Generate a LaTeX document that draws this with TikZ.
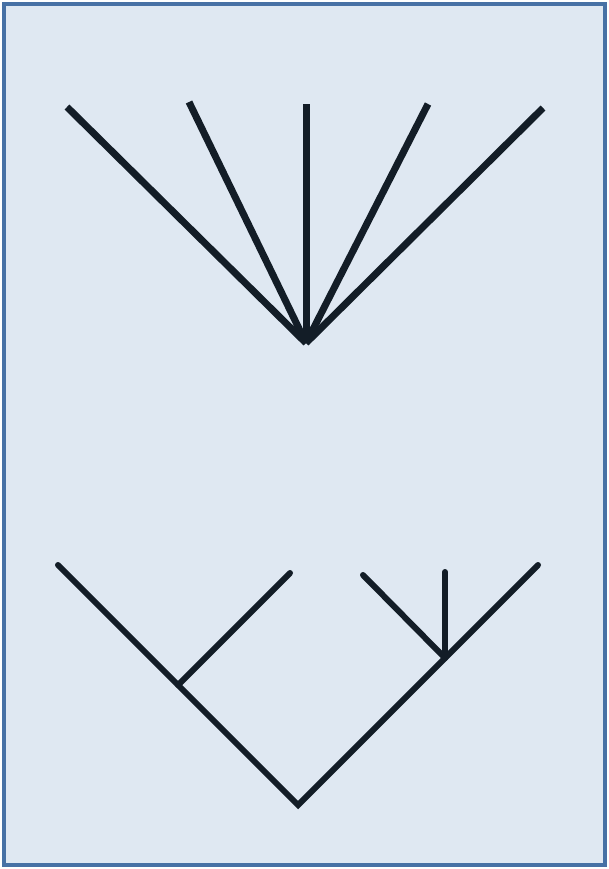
\documentclass[tikz,border=0pt]{standalone}
\usetikzlibrary{calc}
\definecolor{panelfill}{HTML}{DFE8F2}
\definecolor{panelrule}{HTML}{4771A5}
\definecolor{branchink}{HTML}{131D27}
\tikzset{
    panel/.style={
        fill=panelfill,
        draw=panelrule,
        line width=4pt
    },
    fan branch/.style={
        draw=branchink,
        line width=7pt,
        line cap=butt
    },
    binary branch/.style={
        draw=branchink,
        line width=6pt,
        line cap=round,
        line join=miter
    }
}
\begin{document}
\begin{tikzpicture}[x=1pt,y=-1pt]
                \useasboundingbox (0,0) rectangle (609,869);
                \path[panel] (4,4) rectangle (605,865);
                % star tree
                \coordinate (R) at (306, 343);
                \coordinate (L1) at (67, 107);
                \coordinate (L2) at (189, 102);
                \coordinate (L3) at (306, 104);
                \coordinate (L4) at (428, 104);
                \coordinate (L5) at (543, 108);
                \foreach \leaf in {L1,L2,L3,L4,L5}
                    \draw[fan branch] (R) -- (\leaf);
                % binary tree
                \coordinate (B0) at (298, 805);
                \coordinate (BL) at (178, 685);
                \coordinate (BR) at (445, 658);
                \coordinate (Q1) at (58, 565);
                \coordinate (Q2) at (290, 573);
                \coordinate (Q3) at (363, 575);
                \coordinate (Q4) at (445, 572);
                \coordinate (Q5) at (538, 565);
                \draw[binary branch] (Q1) -- (BL) -- (B0) -- (BR) -- (Q5);
                \draw[binary branch] (BL) -- (Q2);
                \draw[binary branch] (BR) -- (Q3);
                \draw[binary branch] (BR) -- (Q4);
            \end{tikzpicture}
\end{document}
